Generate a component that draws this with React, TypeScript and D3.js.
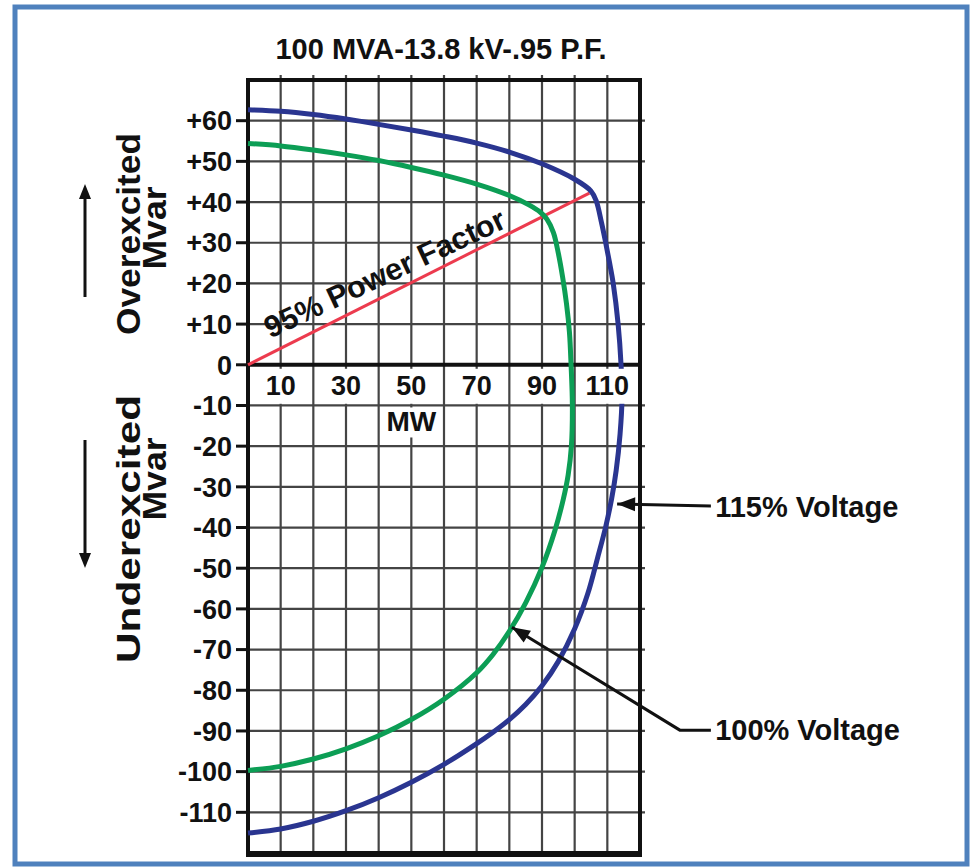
import React, { useEffect, useRef } from "react";
import * as d3 from "d3";

const chartTitle = "100 MVA-13.8 kV-.95 P.F.";
const mwTicks = [10, 30, 50, 70, 90, 110];
const mvarTicks = [60, 50, 40, 30, 20, 10, 0, -10, -20, -30, -40, -50, -60, -70, -80, -90, -100, -110];

// [MW, Mvar]
const voltage115 = [
  [0, 62.7], [10, 62.3], [20, 61.5], [30, 60.4], [40, 59.1], [50, 57.7], [60, 56.2],
  [70, 54.5], [80, 52.3], [90, 49.4], [100, 45.6], [105, 42.7], [106.6, 40.3], [108.2, 35],
  [109.5, 30], [110.7, 25], [111.8, 20], [113.3, 10], [114.2, 0], [114.5, -8], [113.9, -17],
  [112.7, -26], [111.3, -33], [109.5, -39.8], [107, -47.5], [104, -56.3], [100, -64.9],
  [95, -72.9], [90, -78.9], [85, -83.5], [80, -87.2], [75, -90.3], [70, -93.1], [60, -98.2],
  [50, -102.6], [40, -106.4], [30, -109.6], [20, -112.2], [10, -114.1], [0, -115.1],
];
const voltage100 = [
  [0, 54.4], [10, 53.8], [20, 52.8], [30, 51.6], [40, 50.2], [50, 48.5], [60, 46.6],
  [70, 44.4], [80, 41.6], [86, 39.3], [89.5, 37.5], [91.5, 35.8], [93.5, 32.5], [95, 27.4],
  [96.3, 21.6], [97.5, 15], [98.4, 8], [98.9, 0], [99.3, -10], [99.0, -20], [98, -27.1],
  [96.5, -33.1], [94, -40.6], [90, -49.8], [85, -58.5], [80, -65.5], [75, -71.2], [70, -75.7],
  [60, -82.2], [50, -87.2], [40, -91.2], [30, -94.4], [20, -96.9], [10, -98.7], [0, -99.7],
];
const powerFactor95 = [[0, 0], [104.5, 42.2]];

// annotation anchors in data units
const arrow115 = [[141.7, -34.7], [113.0, -34.2]];
const arrow100 = [[141.7, -89.8], [132.2, -89.8], [80.8, -64.5]];
const label115 = { text: "115% Voltage", mw: 143, mvar: -37.4 };
const label100 = { text: "100% Voltage", mw: 143, mvar: -92.2 };

const FONT = "'Liberation Sans', Arial, Helvetica, sans-serif";

function fmt(v: number) {
  return v > 0 ? "+" + v : String(v);
}

function arrowHead(g: any, from: number[], tip: number[], len = 16, half = 6) {
  const dx = tip[0] - from[0];
  const dy = tip[1] - from[1];
  const d = Math.sqrt(dx * dx + dy * dy);
  const ux = dx / d, uy = dy / d;
  const bx = tip[0] - ux * len, by = tip[1] - uy * len;
  const pts = [
    [tip[0], tip[1]],
    [bx - uy * half, by + ux * half],
    [bx + uy * half, by - ux * half],
  ];
  g.append("polygon").attr("points", pts.map((p) => p.join(",")).join(" ")).attr("fill", "#111");
}

export default function App() {
  const ref = useRef<SVGSVGElement>(null);

  useEffect(() => {
    const svg = d3.select(ref.current);
    svg.selectAll("*").remove();

    const x = d3.scaleLinear().domain([0, 120]).range([248, 640]);
    const y = d3.scaleLinear().domain([-120, 70]).range([853, 80]);

    // outer frame
    svg.append("rect")
      .attr("x", 15).attr("y", 7).attr("width", 952).attr("height", 857)
      .attr("fill", "#fff").attr("stroke", "#4f81bd").attr("stroke-width", 5);

    svg.append("text")
      .attr("x", 441).attr("y", 59)
      .attr("text-anchor", "middle")
      .attr("font-family", FONT).attr("font-weight", "bold").attr("font-size", 29)
      .attr("fill", "#111")
      .text(chartTitle);

    const grid = svg.append("g");
    // vertical grid
    grid.selectAll(".vg")
      .data(d3.range(10, 120, 10))
      .enter().append("line")
      .attr("x1", (d) => x(d)).attr("x2", (d) => x(d))
      .attr("y1", y(70) - 5).attr("y2", y(-120))
      .attr("stroke", "#444").attr("stroke-width", 2.2);
    // horizontal grid
    grid.selectAll(".hg")
      .data(d3.range(-110, 70, 10).filter((d) => d !== 0))
      .enter().append("line")
      .attr("x1", x(0)).attr("x2", x(120) + 5)
      .attr("y1", (d) => y(d)).attr("y2", (d) => y(d))
      .attr("stroke", "#444").attr("stroke-width", 2.2);

    // plot border + zero axis
    svg.append("rect")
      .attr("x", x(0)).attr("y", y(70))
      .attr("width", x(120) - x(0)).attr("height", y(-120) - y(70))
      .attr("fill", "none").attr("stroke", "#111").attr("stroke-width", 4);
    svg.append("line")
      .attr("x1", x(0) - 2).attr("x2", x(120) + 2)
      .attr("y1", y(-120) + 1).attr("y2", y(-120) + 1)
      .attr("stroke", "#111").attr("stroke-width", 6);
    svg.append("line")
      .attr("x1", x(0)).attr("x2", x(120))
      .attr("y1", y(0)).attr("y2", y(0))
      .attr("stroke", "#111").attr("stroke-width", 4);

    // y ticks + labels
    svg.selectAll(".yt")
      .data(mvarTicks)
      .enter().append("line")
      .attr("x1", x(0) - 12).attr("x2", x(0))
      .attr("y1", (d) => y(d)).attr("y2", (d) => y(d))
      .attr("stroke", "#111").attr("stroke-width", 3);
    svg.selectAll(".yl")
      .data(mvarTicks)
      .enter().append("text")
      .attr("x", 232).attr("y", (d) => y(d)).attr("dy", "0.36em")
      .attr("text-anchor", "end")
      .attr("font-family", FONT).attr("font-weight", "bold").attr("font-size", 27)
      .attr("fill", "#111")
      .text((d) => fmt(d));

    // curves
    const line = d3.line()
      .x((d: any) => x(d[0]))
      .y((d: any) => y(d[1]))
      .curve(d3.curveCatmullRom.alpha(0.5));

    svg.append("path")
      .datum(powerFactor95)
      .attr("d", d3.line().x((d: any) => x(d[0])).y((d: any) => y(d[1])) as any)
      .attr("fill", "none").attr("stroke", "#ec3b4e").attr("stroke-width", 3);
    svg.append("path")
      .datum(voltage100)
      .attr("d", line as any)
      .attr("fill", "none").attr("stroke", "#0c9e55").attr("stroke-width", 5)
      .attr("stroke-linejoin", "round");
    svg.append("path")
      .datum(voltage115)
      .attr("d", line as any)
      .attr("fill", "none").attr("stroke", "#2a3590").attr("stroke-width", 5)
      .attr("stroke-linejoin", "round");

    // power factor label along the red line
    const ang = Math.atan2(y(powerFactor95[1][1]) - y(0), x(powerFactor95[1][0]) - x(0)) * 180 / Math.PI;
    svg.append("text")
      .attr("transform", `translate(${x(6.8)},${y(0) - 26}) rotate(${ang + 1.5})`)
      .attr("font-family", FONT).attr("font-weight", "bold").attr("font-size", 30.5)
      .attr("fill", "#111")
      .text("95% Power Factor");

    // x labels with white boxes
    const xl = svg.append("g");
    mwTicks.forEach((v) => {
      const w = String(v).length > 2 ? 50 : 36;
      xl.append("rect")
        .attr("x", x(v) - w / 2).attr("y", y(0) + 4)
        .attr("width", w).attr("height", 35).attr("fill", "#fff");
      xl.append("text")
        .attr("x", x(v)).attr("y", y(0) + 30)
        .attr("text-anchor", "middle")
        .attr("font-family", FONT).attr("font-weight", "bold").attr("font-size", 27)
        .attr("fill", "#111")
        .text(v);
    });
    xl.append("rect")
      .attr("x", x(50) - 27).attr("y", y(-10) + 2)
      .attr("width", 54).attr("height", 30).attr("fill", "#fff");
    xl.append("text")
      .attr("x", x(50)).attr("y", y(-10) + 26)
      .attr("text-anchor", "middle")
      .attr("font-family", FONT).attr("font-weight", "bold").attr("font-size", 28)
      .attr("fill", "#111")
      .text("MW");

    // y axis titles
    const titles = [
      { t: "Overexcited", bx: 140, cy: 234, len: 202 },
      { t: "Mvar", bx: 166, cy: 228, len: 83 },
      { t: "Underexcited", bx: 140, cy: 529, len: 268 },
      { t: "Mvar", bx: 166, cy: 479, len: 83 },
    ];
    titles.forEach((o) => {
      svg.append("text")
        .attr("transform", `translate(${o.bx},${o.cy}) rotate(-90)`)
        .attr("text-anchor", "middle")
        .attr("font-family", FONT).attr("font-weight", "bold").attr("font-size", 34)
        .attr("textLength", o.len).attr("lengthAdjust", "spacingAndGlyphs")
        .attr("fill", "#111")
        .text(o.t);
    });

    // up / down arrows
    const arrows = svg.append("g");
    arrows.append("line").attr("x1", 85).attr("x2", 85).attr("y1", 297).attr("y2", 196)
      .attr("stroke", "#111").attr("stroke-width", 3);
    arrowHead(arrows, [85, 297], [85, 184], 15, 6);
    arrows.append("line").attr("x1", 85).attr("x2", 85).attr("y1", 440).attr("y2", 556)
      .attr("stroke", "#111").attr("stroke-width", 3);
    arrowHead(arrows, [85, 440], [85, 568], 15, 6);

    // voltage annotations
    const ann = svg.append("g");
    [arrow115, arrow100].forEach((pts) => {
      const px = pts.map((p) => [x(p[0]), y(p[1])]);
      ann.append("path")
        .attr("d", d3.line()(px as any))
        .attr("fill", "none").attr("stroke", "#111").attr("stroke-width", 3);
      arrowHead(ann, px[px.length - 2], px[px.length - 1], 18, 7);
    });
    [label115, label100].forEach((l) => {
      ann.append("text")
        .attr("x", x(l.mw)).attr("y", y(l.mvar))
        .attr("font-family", FONT).attr("font-weight", "bold").attr("font-size", 29)
        .attr("fill", "#111")
        .text(l.text);
    });
  }, []);

  return (
    <div style={{ position: "absolute", left: 0, top: 0 }}>
      <svg ref={ref} width={970} height={868} />
    </div>
  );
}
